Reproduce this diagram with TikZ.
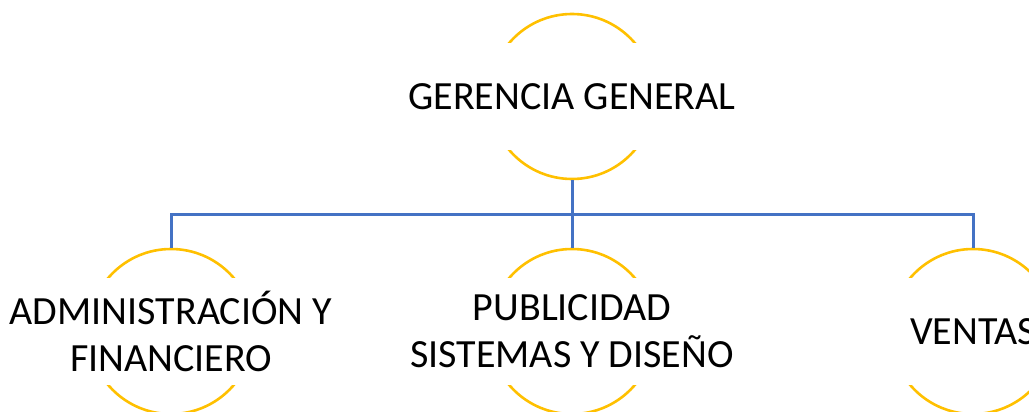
\documentclass[tikz,border=0pt]{standalone}
\usepackage{fontspec}
\setmainfont{Carlito}
\definecolor{ring}{HTML}{FFC000}
\definecolor{link}{HTML}{4472C4}
\begin{document}
\begin{tikzpicture}[x=1pt,y=-1pt,
  ringnode/.style={circle,draw=ring,line width=2.6pt,minimum size=165pt,inner sep=0pt},
  label/.style={fill=white,minimum height=107pt,minimum width=180pt,inner sep=2pt,align=center,
    font=\fontsize{40}{47}\selectfont},
  conn/.style={draw=link,line width=3pt}]
\useasboundingbox (0,0) rectangle (1029,412);
\clip (0,0) rectangle (1029,412);
\node[ringnode] (g) at (572,96.5) {};
\node[ringnode] (a) at (171,331.5) {};
\node[ringnode] (p) at (572,331.5) {};
\node[ringnode] (v) at (973,331.5) {};
\node[label] (gt) at (572,96.5) {GERENCIA GENERAL};
\node[label] (at) at (171,331.5) {ADMINISTRACIÓN Y\\FINANCIERO};
\node[label] (pt) at (572,331.5) {PUBLICIDAD\\SISTEMAS Y DISEÑO};
\node[label] (vt) at (973,331.5) {VENTAS};
\coordinate (j) at (572,214);
\draw[conn] (g.south) -- (p.north);
\draw[conn] (a.north) |- (j) -| (v.north);
\end{tikzpicture}
\end{document}
